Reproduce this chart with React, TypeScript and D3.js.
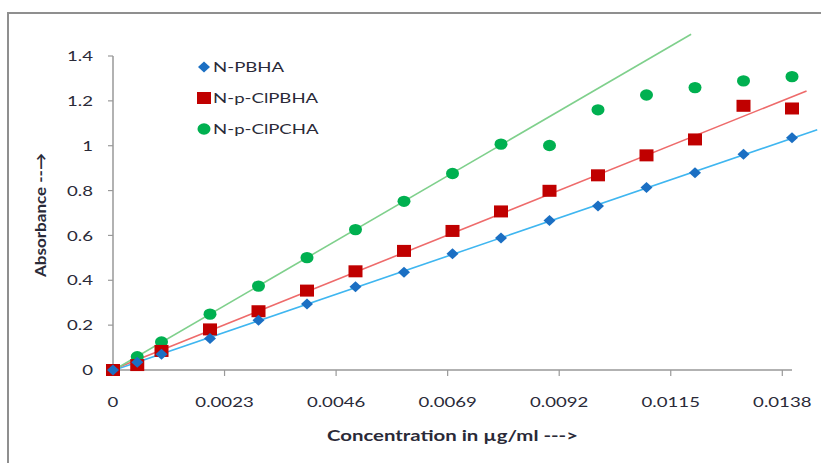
import React from 'react'
import * as d3 from 'd3'

// concentration (µg/ml) shared by all three series
const concentration = [0, 0.0005, 0.001, 0.002, 0.003, 0.004, 0.005, 0.006, 0.007, 0.008, 0.009, 0.01, 0.011, 0.012, 0.013, 0.014]

const npbha = [0, 0.035, 0.07, 0.141, 0.222, 0.294, 0.371, 0.436, 0.518, 0.589, 0.667, 0.731, 0.814, 0.879, 0.962, 1.035]
const npclpbha = [0, 0.022, 0.085, 0.181, 0.262, 0.354, 0.44, 0.531, 0.62, 0.707, 0.799, 0.868, 0.957, 1.028, 1.178, 1.166]
const npclpcha = [0, 0.059, 0.125, 0.249, 0.374, 0.501, 0.626, 0.752, 0.876, 1.007, 1.001, 1.16, 1.226, 1.259, 1.289, 1.308]

const seriesNames = ['N-PBHA', 'N-p-ClPBHA', 'N-p-ClPCHA']
// how many points feed each linear trendline, and where the line stops
const trendPoints = [16, 16, 10]
const trendEnd = [0.01452, 0.0143, 0.01192]

const xTicks = [0, 0.0023, 0.0046, 0.0069, 0.0092, 0.0115, 0.0138]
const xTickLabels = ['0', '0.0023', '0.0046', '0.0069', '0.0092', '0.0115', '0.0138']
const yTicks = [0, 0.2, 0.4, 0.6, 0.8, 1, 1.2, 1.4]
const yTickLabels = ['0', '0.2', '0.4', '0.6', '0.8', '1', '1.2', '1.4']

const markerColors = ['#1b6fc3', '#c00000', '#00b050']
const lineColors = ['#3fb6f0', '#ee6b6b', '#7fd08c']

const W = 821
const H = 463
const SX = 1.33 // the source picture is stretched horizontally
const font = 'Lato, "Open Sans", sans-serif'
const ink = '#2a2a38'

const fit = (xs: number[], ys: number[]) => {
  const mx = d3.mean(xs) as number
  const my = d3.mean(ys) as number
  let num = 0
  let den = 0
  xs.forEach((x, i) => {
    num += (x - mx) * (ys[i] - my)
    den += (x - mx) * (x - mx)
  })
  const slope = num / den
  return { slope, intercept: my - slope * mx }
}

const Marker = ({ kind, x, y, color }: { kind: number; x: number; y: number; color: string }) => {
  if (kind === 0) {
    return <path d={`M${x},${y - 5.5}L${x + 6},${y}L${x},${y + 5.5}L${x - 6},${y}Z`} fill={color} />
  }
  if (kind === 1) {
    return <rect x={x - 7} y={y - 6} width={14} height={12} fill={color} />
  }
  return <ellipse cx={x} cy={y} rx={6.5} ry={5.7} fill={color} />
}

const STxt = ({ x, y, anchor, size, weight, children }: any) => (
  <text
    transform={`translate(${x},${y}) scale(${SX},1)`}
    textAnchor={anchor}
    dominantBaseline="central"
    fontFamily={font}
    fontSize={size}
    fontWeight={weight || 400}
    fill={ink}
  >
    {children}
  </text>
)

const App = () => {
  const x = d3.scaleLinear().domain([0, 0.014]).range([113, 792])
  const y = d3.scaleLinear().domain([0, 1.4]).range([370, 56])
  const series = [npbha, npclpbha, npclpcha]

  const line = d3.line<[number, number]>().x((d) => x(d[0])).y((d) => y(d[1]))

  return (
    <svg width={W} height={H} style={{ position: 'absolute', left: 0, top: 0, background: '#fff' }}>
      <rect x={8} y={13} width={W} height={H} fill="#fff" stroke="#8f8f8f" strokeWidth={2} />

      {/* axes */}
      <line x1={x(0)} x2={x(0.014)} y1={y(0)} y2={y(0)} stroke="#999" strokeWidth={1.5} />
      <line x1={x(0)} x2={x(0)} y1={y(0)} y2={y(1.4)} stroke="#999" strokeWidth={1.5} />
      {yTicks.map((t, i) => (
        <g key={'y' + i}>
          <line x1={x(0) - 5} x2={x(0)} y1={y(t)} y2={y(t)} stroke="#999" strokeWidth={1.2} />
          <STxt x={93} y={y(t)} anchor="end" size={14}>{yTickLabels[i]}</STxt>
        </g>
      ))}
      {xTicks.map((t, i) => (
        <g key={'x' + i}>
          <line x1={x(t)} x2={x(t)} y1={y(0)} y2={y(0) + 6} stroke="#999" strokeWidth={1.2} />
          <STxt x={x(t)} y={402} anchor="middle" size={14}>{xTickLabels[i]}</STxt>
        </g>
      ))}

      {/* trendlines */}
      {series.map((s, i) => {
        const n = trendPoints[i]
        const { slope, intercept } = fit(concentration.slice(0, n), s.slice(0, n))
        const pts: [number, number][] = [
          [0, intercept],
          [trendEnd[i], intercept + slope * trendEnd[i]],
        ]
        return <path key={'t' + i} d={line(pts) as string} stroke={lineColors[i]} strokeWidth={1.6} fill="none" />
      })}

      {/* points */}
      {[2, 1, 0].map((i) =>
        series[i].map((v, j) => (
          <Marker key={i + '-' + j} kind={i} x={x(concentration[j])} y={y(v)} color={markerColors[i]} />
        ))
      )}

      {/* legend */}
      {seriesNames.map((name, i) => {
        const ly = 67 + i * 31
        return (
          <g key={name}>
            <Marker kind={i} x={204} y={ly} color={markerColors[i]} />
            <STxt x={213} y={ly} anchor="start" size={14}>{name}</STxt>
          </g>
        )
      })}

      <text
        x={327}
        y={435}
        dominantBaseline="central"
        fontFamily={font}
        fontSize={15}
        fontWeight={700}
        fill={ink}
        textLength={251}
        lengthAdjust="spacingAndGlyphs"
      >
        Concentration in µg/ml ---&gt;
      </text>
      <text
        transform="translate(40,277) rotate(-90)"
        dominantBaseline="central"
        fontFamily={font}
        fontSize={15}
        fontWeight={700}
        fill={ink}
        textLength={124}
        lengthAdjust="spacingAndGlyphs"
      >
        Absorbance --→
      </text>
    </svg>
  )
}

export default App
